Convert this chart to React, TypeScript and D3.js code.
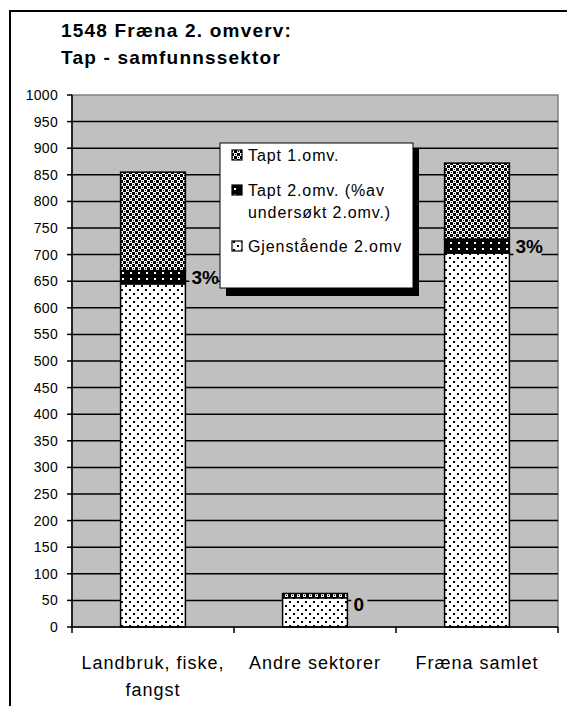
import * as d3 from "d3";

const categories = ["Landbruk, fiske, fangst", "Andre sektorer", "Fræna samlet"];
const categoryLines = [["Landbruk, fiske,", "fangst"], ["Andre sektorer"], ["Fræna samlet"]];
const gjenstaende = [645, 55, 703];
const tapt2 = [25, 0, 26];
const tapt1 = [185, 8, 143];
const tapt2Labels = ["3%", "0", "3%"];
const yTicks = d3.range(0, 1001, 50);
const seriesNames = ["Tapt 1.omv.", "Tapt 2.omv. (%av|undersøkt 2.omv.)", "Gjenstående 2.omv"];

const W = 567;
const H = 706;
const plot = { left: 72, right: 558, top: 95, bottom: 627 };
const font = "'Liberation Sans', Arial, sans-serif";

export default function App() {
  const x = d3
    .scaleBand<string>()
    .domain(categories)
    .range([plot.left, plot.right])
    .paddingInner(0.6)
    .paddingOuter(0.3);
  const band = (plot.right - plot.left) / categories.length;
  const y = d3.scaleLinear().domain([0, 1000]).range([plot.bottom, plot.top]);

  const stacks = categories.map((c, i) => {
    const s1 = gjenstaende[i];
    const s2 = s1 + tapt2[i];
    const s3 = s2 + tapt1[i];
    return [
      { key: "g", y0: 0, y1: s1, fill: "url(#dots)" },
      { key: "t2", y0: s1, y1: s2, fill: "url(#blackdots)" },
      { key: "t1", y0: s2, y1: s3, fill: "url(#checker)" },
    ];
  });

  return (
    <svg width={W} height={H} style={{ position: "absolute", left: 0, top: 0 }}>
      <defs>
        <pattern id="dots" width="8" height="8" patternUnits="userSpaceOnUse">
          <rect width="8" height="8" fill="#fff" />
          <rect x="1" y="1" width="2" height="2" fill="#000" />
          <rect x="5" y="5" width="2" height="2" fill="#000" />
        </pattern>
        <pattern id="blackdots" width="8" height="6" patternUnits="userSpaceOnUse">
          <rect width="8" height="6" fill="#000" />
          <rect x="2" y="2" width="2" height="2" fill="#fff" />
        </pattern>
        <pattern id="checker" width="6" height="6" patternUnits="userSpaceOnUse">
          <rect width="6" height="6" fill="#fff" />
          <rect x="0" y="0" width="3" height="3" fill="#000" />
          <rect x="3" y="3" width="3" height="3" fill="#000" />
          <rect x="1" y="4" width="1" height="1" fill="#000" />
          <rect x="4" y="1" width="1" height="1" fill="#000" />
        </pattern>
      </defs>
      <rect x={0} y={0} width={W} height={H} fill="#fff" />
      <path d={`M10,${H} V11 H${W}`} fill="none" stroke="#000" strokeWidth={2} />

      <text x={61} y={37} fontFamily={font} fontWeight="bold" fontSize={19} letterSpacing={1.2}>
        1548 Fræna 2. omverv:
      </text>
      <text x={61} y={64} fontFamily={font} fontWeight="bold" fontSize={19} letterSpacing={1.2}>
        Tap - samfunnssektor
      </text>

      <rect
        x={plot.left}
        y={plot.top}
        width={plot.right - plot.left}
        height={plot.bottom - plot.top}
        fill="#c0c0c0"
        stroke="#808080"
        strokeWidth={1.5}
      />
      {yTicks.map((t) => (
        <g key={t}>
          {t > 0 && t < 1000 && (
            <line x1={plot.left} x2={plot.right} y1={y(t)} y2={y(t)} stroke="#000" strokeWidth={1.5} />
          )}
          <line x1={plot.left - 5} x2={plot.left} y1={y(t)} y2={y(t)} stroke="#000" strokeWidth={1.5} />
          <text
            x={plot.left - 14}
            y={y(t)}
            dy="0.35em"
            textAnchor="end"
            fontFamily={font}
            fontSize={14}
            letterSpacing={0.3}
          >
            {t}
          </text>
        </g>
      ))}

      {stacks.map((segs, i) =>
        segs.map((s) =>
          s.y1 > s.y0 ? (
            <rect
              key={categories[i] + s.key}
              x={x(categories[i])}
              y={y(s.y1)}
              width={x.bandwidth()}
              height={y(s.y0) - y(s.y1)}
              fill={s.fill}
              stroke="#000"
              strokeWidth={1.5}
            />
          ) : null
        )
      )}

      {categories.map((c, i) => {
        const lx = (x(c) ?? 0) + x.bandwidth() + 4;
        const ly = y(gjenstaende[i] + tapt2[i] / 2) + (i === 1 ? 6 : 0);
        const w = tapt2Labels[i].length * 12 + 4;
        return (
          <g key={c + "lbl"}>
            <rect x={lx} y={ly - 11} width={w} height={22} fill="#c0c0c0" />
            <text x={lx + 2} y={ly} dy="0.36em" fontFamily={font} fontWeight="bold" fontSize={19}>
              {tapt2Labels[i]}
            </text>
          </g>
        );
      })}

      <line x1={plot.left} x2={plot.left} y1={plot.top} y2={plot.bottom} stroke="#000" strokeWidth={1.5} />
      <line x1={plot.left} x2={plot.right} y1={plot.bottom} y2={plot.bottom} stroke="#000" strokeWidth={1.5} />
      {d3.range(categories.length + 1).map((k) => (
        <line
          key={k}
          x1={plot.left + k * band}
          x2={plot.left + k * band}
          y1={plot.bottom}
          y2={plot.bottom + 6}
          stroke="#000"
          strokeWidth={1.5}
        />
      ))}
      {categories.map((c, i) => (
        <text
          key={c}
          x={(x(c) ?? 0) + x.bandwidth() / 2}
          y={669}
          textAnchor="middle"
          fontFamily={font}
          fontSize={18}
          letterSpacing={1}
        >
          {categoryLines[i].map((l, j) => (
            <tspan key={j} x={(x(c) ?? 0) + x.bandwidth() / 2} dy={j === 0 ? 0 : 27}>
              {l}
            </tspan>
          ))}
        </text>
      ))}

      <g>
        <rect x={226} y={149} width={193} height={147} fill="#000" />
        <rect x={220} y={143} width={193} height={145} fill="#fff" stroke="#000" strokeWidth={1} />
        {seriesNames.map((n, i) => {
          const ys = [155, 190, 246][i];
          const fills = ["url(#checker)", "url(#blackdots)", "url(#dots)"];
          const lines = n.split("|");
          return (
            <g key={n}>
              <rect x={232} y={ys - 5} width={10} height={10} fill={fills[i]} stroke="#000" strokeWidth={1.2} />
              <text x={248} y={ys} fontFamily={font} fontSize={16} letterSpacing={0.9}>
                {lines.map((l, j) => (
                  <tspan key={j} x={248} dy={j === 0 ? "0.35em" : 22}>
                    {l}
                  </tspan>
                ))}
              </text>
            </g>
          );
        })}
      </g>
    </svg>
  );
}
